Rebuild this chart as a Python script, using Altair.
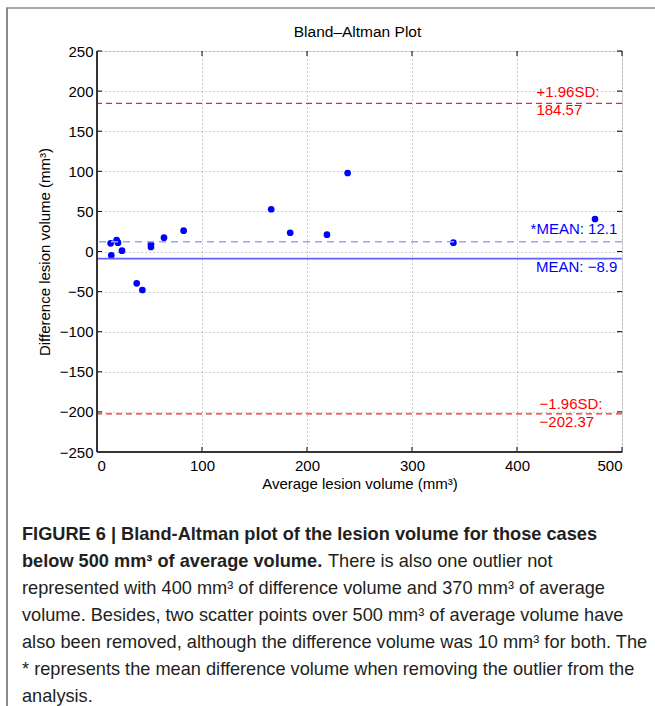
import altair as alt
import pandas as pd

# ---- data ----
avg_volume = [13, 13.6, 18.7, 20, 23.8, 37.8, 43.2, 51.4, 51.4, 63.8, 82.5,
              165.9, 184, 219, 238.7, 339.4, 474.3]
diff_volume = [10.2, -4.7, 14.3, 11, 1, -39.7, -48, 9, 5.6, 17.2, 26,
               52.7, 23.4, 21, 97.9, 11, 40.5]

upper_sd = 184.57
lower_sd = -202.37
mean_all = -8.9
mean_star = 12.1

x_ticks = [0, 100, 200, 300, 400, 500]
y_ticks = [-250, -200, -150, -100, -50, 0, 50, 100, 150, 200, 250]

caption_lines = [
    ("bold", "FIGURE 6 | Bland-Altman plot of the lesion volume for those cases"),
    ("bold", "below 500 mm³ of average volume."),
    ("normal", "represented with 400 mm³ of difference volume and 370 mm³ of average"),
    ("normal", "volume. Besides, two scatter points over 500 mm³ of average volume have"),
    ("normal", "also been removed, although the difference volume was 10 mm³ for both. The"),
    ("normal", "* represents the mean difference volume when removing the outlier from the"),
    ("normal", "analysis."),
]
caption_tail = "There is also one outlier not"

W, H = 525, 401
FONT = "Liberation Sans"
CAP_SIZE = 18.2

pts = pd.DataFrame({"avg": avg_volume, "diff": diff_volume})

xs = alt.Scale(domain=[0, 500], nice=False, zero=False)
ys = alt.Scale(domain=[-250, 250], nice=False, zero=False)

axis_common = dict(grid=True, gridDash=[1, 3], gridColor="#9a9a9a", ticks=False,
                   domain=False, labelFontSize=15, titleFontSize=15,
                   titleFontWeight="normal", labelColor="#000", titleColor="#000",
                   labelFont=FONT, titleFont=FONT)
base_x = alt.X("avg:Q", scale=xs,
               axis=alt.Axis(values=x_ticks, title="Average lesion volume (mm³)",
                             labelPadding=6, titlePadding=3, **axis_common))
base_y = alt.Y("diff:Q", scale=ys,
               axis=alt.Axis(values=y_ticks, title="Difference lesion volume (mm³)",
                             labelPadding=4, titlePadding=7, **axis_common))

points = alt.Chart(pts).mark_circle(color="#0000ff", opacity=1, size=45).encode(
    x=base_x, y=base_y)


def hline(val, **kw):
    return alt.Chart(pd.DataFrame({"val": [val]})).mark_rule(**kw).encode(
        y=alt.Y("val:Q", scale=ys))


sd_up_line = hline(upper_sd, color="#ff2020", strokeDash=[6, 4], strokeWidth=1.2)
sd_lo_line = hline(lower_sd, color="#ff2020", strokeDash=[6, 4], strokeWidth=1.2)
mean_line = hline(mean_all, color="#6060ff", strokeWidth=1.6)
star_line = hline(mean_star, color="#a0a0ff", strokeDash=[7, 5], strokeWidth=1.4)


def label(xv, yv, text, dy, align, color):
    return alt.Chart(pd.DataFrame({"x": [xv], "y": [yv], "t": [text]})).mark_text(
        align=align, baseline="middle", color=color, fontSize=15, font=FONT, dy=dy).encode(
        x=alt.X("x:Q", scale=xs), y=alt.Y("y:Q", scale=ys), text="t:N")


labels = [
    label(418.5, upper_sd, "+1.96SD:", -11, "left", "#ff0000"),
    label(418.5, upper_sd, f"{upper_sd:.2f}", 7, "left", "#ff0000"),
    label(421.5, lower_sd, "−1.96SD:", -10, "left", "#ff0000"),
    label(421.5, lower_sd, "−202.37", 8, "left", "#ff0000"),
    label(495.5, mean_star, f"*MEAN: {mean_star}", -13, "right", "#0000ff"),
    label(495.5, mean_all, "MEAN: −8.9", 8.5, "right", "#0000ff"),
]

# inward ticks (MATLAB style)
xt = pd.DataFrame({"v": x_ticks})
yt = pd.DataFrame({"v": y_ticks})
tick_style = dict(color="#000", strokeWidth=1)
xt_bottom = alt.Chart(xt).mark_rule(**tick_style).encode(
    x=alt.X("v:Q", scale=xs), y=alt.value(H), y2=alt.value(H - 5))
xt_top = alt.Chart(xt).mark_rule(**tick_style).encode(
    x=alt.X("v:Q", scale=xs), y=alt.value(0), y2=alt.value(5))
yt_left = alt.Chart(yt).mark_rule(**tick_style).encode(
    y=alt.Y("v:Q", scale=ys), x=alt.value(0), x2=alt.value(5))
yt_right = alt.Chart(yt).mark_rule(**tick_style).encode(
    y=alt.Y("v:Q", scale=ys), x=alt.value(W), x2=alt.value(W - 5))

one = pd.DataFrame({"a": [0]})
# axis box lines (left / bottom thicker)
box_left = alt.Chart(one).mark_rule(color="#333", strokeWidth=2).encode(
    x=alt.value(0), y=alt.value(0), y2=alt.value(H))
box_bottom = alt.Chart(one).mark_rule(color="#333", strokeWidth=2).encode(
    x=alt.value(0), x2=alt.value(W), y=alt.value(H))

# figure frame (gray)
frame_left = alt.Chart(one).mark_rule(color="#8a8a8a", strokeWidth=2).encode(
    x=alt.value(-90), y=alt.value(-43), y2=alt.value(700))
frame_top = alt.Chart(one).mark_rule(color="#8a8a8a", strokeWidth=1.5).encode(
    x=alt.value(-91), x2=alt.value(600), y=alt.value(-43))

# plot title
title = alt.Chart(pd.DataFrame({"t": ["Bland–Altman Plot"]})).mark_text(
    align="center", baseline="middle", fontSize=15.5, font=FONT, color="#000").encode(
    x=alt.value(W / 2 - 2), y=alt.value(-19), text="t:N")

# caption
cap_y0 = 484
cap_rows = []
for i, (w, t) in enumerate(caption_lines):
    cap_rows.append({"t": t, "w": w, "py": cap_y0 + 27 * i, "px": -75})
cap_rows.append({"t": caption_tail, "w": "normal", "py": cap_y0 + 27, "px": 231})
cap_df = pd.DataFrame(cap_rows)
caption_bold = alt.Chart(cap_df[cap_df.w == "bold"]).mark_text(
    align="left", baseline="middle", fontSize=CAP_SIZE, fontWeight="bold", font=FONT,
    color="#231f20").encode(
    x=alt.X("px:Q", scale=None), y=alt.Y("py:Q", scale=None), text="t:N")
caption_norm = alt.Chart(cap_df[cap_df.w == "normal"]).mark_text(
    align="left", baseline="middle", fontSize=CAP_SIZE, font=FONT, color="#231f20").encode(
    x=alt.X("px:Q", scale=None), y=alt.Y("py:Q", scale=None), text="t:N")

chart = alt.layer(
    points, sd_up_line, sd_lo_line, star_line, mean_line, *labels,
    xt_bottom, xt_top, yt_left, yt_right, box_left, box_bottom,
    frame_left, frame_top, title, caption_bold, caption_norm,
).properties(
    width=W, height=H,
    autosize=alt.AutoSizeParams(type="none"),
    padding={"left": 97, "top": 51, "right": 33, "bottom": 254},
).configure_view(stroke="#000", strokeWidth=1).configure(background="white")

chart.save("out.html", embed_options={"renderer": "svg", "actions": False})
